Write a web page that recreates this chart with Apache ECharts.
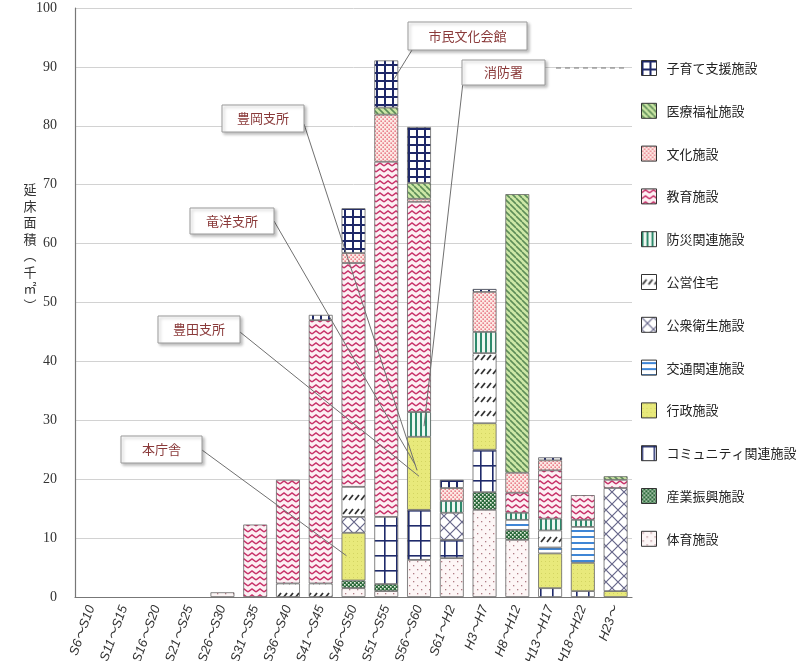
<!DOCTYPE html>
<html>
<head>
<meta charset="utf-8">
<script src="https://cdn.jsdelivr.net/npm/echarts@6.0.0/dist/echarts.min.js"></script>
<style>
  html, body { margin: 0; padding: 0; background: #fff; }
  #chart { width: 802px; height: 661px; }
</style>
</head>
<body>
<div id="chart"></div>
<script>
// 年代区分
var categories = ['S6～S10', 'S11～S15', 'S16～S20', 'S21～S25', 'S26～S30', 'S31～S35', 'S36～S40',
  'S41～S45', 'S46～S50', 'S51～S55', 'S56～S60', 'S61～H2', 'H3～H7', 'H8～H12', 'H13～H17', 'H18～H22', 'H23～'];

// 延床面積（千㎡）, stacked bottom -> top
var taiiku    = [0, 0, 0, 0, 0.8, 0, 0, 0, 1.5, 1.0, 6.3, 6.6, 14.8, 9.7, 0, 0, 0];
var sangyo    = [0, 0, 0, 0, 0, 0, 0, 0, 1.3, 1.2, 0, 0, 3.0, 1.7, 0, 0, 0];
var community = [0, 0, 0, 0, 0, 0, 0, 0, 0, 11.4, 8.5, 3.1, 7.2, 0, 1.5, 1.0, 0];
var gyosei    = [0, 0, 0, 0, 0, 0, 0, 0, 8.1, 0, 12.4, 0, 4.5, 0, 5.9, 4.8, 1.0];
var kotsu     = [0, 0, 0, 0, 0, 0, 0, 0, 0, 0, 0, 0, 0, 1.7, 1.0, 6.1, 0];
var koshu     = [0, 0, 0, 0, 0, 0, 0, 0, 2.7, 0, 0, 4.6, 0, 0, 0, 0, 17.5];
var koei      = [0, 0, 0, 0, 0, 0, 2.3, 2.3, 5.1, 0, 0, 0, 11.9, 0, 2.9, 0, 0];
var bousai    = [0, 0, 0, 0, 0, 0, 0, 0, 0, 0, 4.2, 2.0, 3.6, 1.2, 2.0, 1.2, 0];
var kyoiku    = [0, 0, 0, 0, 0, 12.3, 17.6, 44.7, 38.0, 60.3, 35.7, 0, 0, 3.4, 8.2, 4.2, 1.4];
var bunka     = [0, 0, 0, 0, 0, 0, 0, 0, 1.7, 8.0, 0.5, 2.2, 6.8, 3.4, 1.7, 0, 0];
var iryo      = [0, 0, 0, 0, 0, 0, 0, 0, 0, 1.2, 2.7, 0, 0, 47.3, 0, 0, 0.6];
var kosodate  = [0, 0, 0, 0, 0, 0, 0, 0.9, 7.6, 8.0, 9.5, 1.4, 0.5, 0, 0.5, 0, 0];

var yTicks = [0, 10, 20, 30, 40, 50, 60, 70, 80, 90, 100];

function pattern(w, h, bg, draw) {
  var c = document.createElement('canvas');
  c.width = w;
  c.height = h;
  var g = c.getContext('2d');
  g.fillStyle = bg;
  g.fillRect(0, 0, w, h);
  draw(g, w, h);
  return { image: c, repeat: 'repeat' };
}

var fills = {
  taiiku: pattern(8, 8, '#fdf6f6', function (g) {
    g.fillStyle = '#b07c84';
    g.fillRect(1, 1, 1.3, 1.3);
    g.fillRect(5, 5, 1.3, 1.3);
  }),
  sangyo: pattern(4, 4, '#2b6a3b', function (g) {
    g.fillStyle = '#e6f0e2';
    g.fillRect(0, 0, 1.6, 1.6);
    g.fillRect(2, 2, 1.6, 1.6);
  }),
  community: pattern(12, 15, '#ffffff', function (g) {
    g.fillStyle = '#1f2a6b';
    g.fillRect(0, 0, 12, 1.6);
    g.fillRect(0, 0, 1.6, 15);
  }),
  gyosei: pattern(4, 4, '#e8e97b', function (g) {
    g.fillStyle = '#d3d462';
    g.fillRect(1, 1, 1, 1);
  }),
  kotsu: pattern(4, 6, '#ffffff', function (g) {
    g.fillStyle = '#3f86d6';
    g.fillRect(0, 2, 4, 2);
  }),
  koshu: pattern(12, 12, '#ffffff', function (g) {
    g.strokeStyle = '#66668a';
    g.lineWidth = 1.2;
    g.beginPath();
    g.moveTo(0, 0); g.lineTo(12, 12);
    g.moveTo(12, 0); g.lineTo(0, 12);
    g.stroke();
  }),
  koei: pattern(6, 14, '#ffffff', function (g) {
    g.strokeStyle = '#333333';
    g.lineWidth = 1.8;
    g.beginPath();
    g.moveTo(1, 10); g.lineTo(5, 5);
    g.stroke();
  }),
  bousai: pattern(5, 4, '#eef7f1', function (g) {
    g.fillStyle = '#2e8a6c';
    g.fillRect(0, 0, 2, 4);
  }),
  kyoiku: pattern(8, 6, '#fdf0f4', function (g) {
    g.strokeStyle = '#c8336a';
    g.lineWidth = 1.5;
    g.beginPath();
    g.moveTo(0, 4); g.lineTo(4, 1); g.lineTo(8, 4);
    g.stroke();
  }),
  bunka: pattern(4, 4, '#fce9e4', function (g) {
    g.fillStyle = '#e0485e';
    g.fillRect(0.5, 0.5, 1.3, 1.3);
    g.fillRect(2.5, 2.5, 1.3, 1.3);
  }),
  iryo: pattern(6, 6, '#cde7a6', function (g) {
    g.strokeStyle = '#5d8d58';
    g.lineWidth = 1.6;
    g.beginPath();
    [-6, 0, 6].forEach(function (k) {
      g.moveTo(k, 0); g.lineTo(k + 6, 6);
    });
    g.stroke();
  }),
  kosodate: pattern(8, 8, '#ffffff', function (g) {
    g.fillStyle = '#1e2868';
    g.fillRect(0, 0, 8, 2);
    g.fillRect(0, 0, 2, 8);
  })
};

// bottom -> top
var stack = [
  { name: '体育施設', data: taiiku, fill: fills.taiiku },
  { name: '産業振興施設', data: sangyo, fill: fills.sangyo },
  { name: 'コミュニティ関連施設', data: community, fill: fills.community },
  { name: '行政施設', data: gyosei, fill: fills.gyosei },
  { name: '交通関連施設', data: kotsu, fill: fills.kotsu },
  { name: '公衆衛生施設', data: koshu, fill: fills.koshu },
  { name: '公営住宅', data: koei, fill: fills.koei },
  { name: '防災関連施設', data: bousai, fill: fills.bousai },
  { name: '教育施設', data: kyoiku, fill: fills.kyoiku },
  { name: '文化施設', data: bunka, fill: fills.bunka },
  { name: '医療福祉施設', data: iryo, fill: fills.iryo },
  { name: '子育て支援施設', data: kosodate, fill: fills.kosodate }
];

var chart = echarts.init(document.getElementById('chart'));

var series = stack.map(function (s) {
  return {
    name: s.name,
    type: 'bar',
    stack: 'total',
    barWidth: '73%',
    // empty segments are left out so they draw no outline
    data: s.data.map(function (v) { return v === 0 ? '-' : v; }),
    itemStyle: {
      color: s.fill,
      borderColor: '#666',
      borderWidth: 0.8
    }
  };
});

var option = {
  animation: false,
  backgroundColor: '#fff',
  grid: { left: 75, right: 170, top: 8, bottom: 64, containLabel: false, outerBoundsMode: 'none' },
  legend: {
    orient: 'vertical',
    left: 636,
    top: 55,
    itemWidth: 15,
    itemHeight: 15,
    itemGap: 26.8,
    icon: 'rect',
    data: stack.map(function (s) { return s.name; }).reverse(),
    textStyle: {
      fontFamily: '"Noto Sans CJK JP"',
      fontSize: 13,
      color: '#222',
      padding: [0, 0, 0, 5]
    },
    itemStyle: { borderColor: '#333', borderWidth: 1 }
  },
  xAxis: {
    type: 'category',
    data: categories,
    axisLine: { lineStyle: { color: '#777', width: 1.2 } },
    axisTick: { inside: true, length: 4, lineStyle: { color: '#777' } },
    axisLabel: {
      rotate: 70,
      margin: 9,
      fontSize: 13,
      fontStyle: 'italic',
      fontFamily: '"Liberation Sans", "Noto Sans CJK JP"',
      color: '#333'
    }
  },
  yAxis: {
    type: 'value',
    min: yTicks[0],
    max: yTicks[yTicks.length - 1],
    interval: 10,
    axisLine: { show: true, lineStyle: { color: '#777', width: 1.2 } },
    axisTick: { show: false },
    axisLabel: {
      margin: 18,
      fontSize: 14,
      fontFamily: '"Liberation Serif"',
      color: '#333'
    },
    splitLine: { lineStyle: { color: '#d2d2d2', width: 1 } }
  },
  series: series
};

chart.setOption(option);

// 吹き出し（注記）
var callouts = [
  { text: '市民文化会館', x: 408, y: 22, w: 119, h: 28, sx: 412, sy: 50, cat: 9, val: 88, dx: 8 },
  { text: '消防署', x: 462, y: 60, w: 83, h: 25, sx: 463, sy: 82, cat: 10, val: 29, dx: 5 },
  { text: '豊岡支所', x: 222, y: 105, w: 82, h: 27, sx: 304, sy: 124, cat: 10, val: 21.5, dx: -2 },
  { text: '竜洋支所', x: 190, y: 208, w: 84, h: 26, sx: 274, sy: 221, cat: 10, val: 22.5, dx: -4 },
  { text: '豊田支所', x: 158, y: 316, w: 82, h: 27, sx: 240, sy: 332, cat: 10, val: 20.5, dx: 0 },
  { text: '本庁舎', x: 121, y: 436, w: 81, h: 27, sx: 202, sy: 450, cat: 8, val: 7, dx: -7 }
];

var graphics = [];
callouts.forEach(function (c) {
  var p = chart.convertToPixel({ xAxisIndex: 0, yAxisIndex: 0 }, [c.cat, c.val]);
  graphics.push({
    type: 'line', z: 100,
    shape: { x1: c.sx, y1: c.sy, x2: p[0] + c.dx, y2: p[1] },
    style: { stroke: '#707070', lineWidth: 1 }
  });
  graphics.push({
    type: 'rect', z: 101,
    shape: { x: c.x, y: c.y, width: c.w, height: c.h },
    style: {
      fill: '#fff', stroke: '#9a9a9a', lineWidth: 1,
      shadowBlur: 3, shadowOffsetX: 2, shadowOffsetY: 2, shadowColor: 'rgba(0,0,0,0.25)'
    }
  });
  graphics.push({
    type: 'text', z: 102,
    x: c.x + c.w / 2, y: c.y + c.h / 2,
    style: {
      text: c.text, fill: '#8a3a3a',
      font: '13px "Noto Sans CJK JP"',
      align: 'center', verticalAlign: 'middle'
    }
  });
});

graphics.push({
  type: 'line', z: 100,
  shape: { x1: 556, y1: 68, x2: 628, y2: 68 },
  style: { stroke: '#777', lineWidth: 1, lineDash: [5, 4] }
});

graphics.push({
  type: 'text', z: 100,
  x: 30, y: 181,
  style: {
    text: '延\n床\n面\n積\n︵\n千\n㎡\n︶',
    fill: '#333',
    font: '13px "Noto Sans CJK JP"',
    lineHeight: 16.5,
    align: 'center', verticalAlign: 'top'
  }
});

chart.setOption({ graphic: graphics });
</script>
</body>
</html>
